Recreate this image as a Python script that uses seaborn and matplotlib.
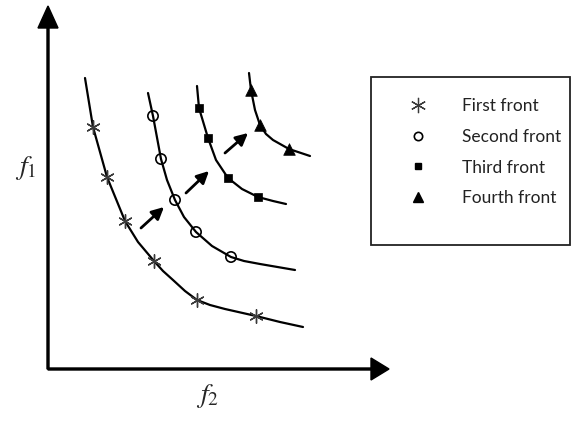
import pandas as pd
import matplotlib
matplotlib.use("Agg")
import matplotlib.pyplot as plt
import seaborn as sns
from matplotlib.lines import Line2D
from matplotlib.patches import Rectangle

# -----------------------------
# Data
# -----------------------------

front_names = ["First front", "Second front", "Third front", "Fourth front"]

# smooth front curves
c1_f2 = [3.7, 4.5, 5.9, 7.7, 9.0, 10.6, 11.5, 12.5, 13.7, 14.9, 16.2,
         17.7, 20.8, 23.2, 25.5]
c1_f1 = [29.1, 24.2, 19.2, 14.8, 12.7, 10.8, 9.8, 8.9, 7.8, 6.9, 6.4,
         6.0, 5.3, 4.7, 4.2]

c2_f2 = [10.0, 10.5, 11.3, 11.9, 12.7, 13.6, 14.8, 16.4, 18.3, 19.6,
         21.2, 24.7]
c2_f1 = [27.6, 25.3, 21.0, 18.9, 16.9, 15.2, 13.7, 12.3, 11.2, 10.8,
         10.5, 9.9]

c3_f2 = [14.9, 15.1, 16.0, 16.8, 18.0, 19.4, 21.0, 22.5, 23.8]
c3_f1 = [28.3, 26.1, 23.1, 20.9, 19.1, 18.0, 17.2, 16.8, 16.5]

c4_f2 = [20.1, 20.3, 20.7, 21.2, 21.8, 22.5, 24.1, 26.2]
c4_f1 = [29.6, 27.9, 25.9, 24.4, 23.5, 22.9, 22.0, 21.3]

# solutions on each front
p1_f2 = [4.5, 5.9, 7.7, 10.6, 14.9, 20.8]
p1_f1 = [24.2, 19.2, 14.8, 10.8, 6.9, 5.3]

p2_f2 = [10.5, 11.3, 12.7, 14.8, 18.3]
p2_f1 = [25.3, 21.0, 16.9, 13.7, 11.2]

p3_f2 = [15.1, 16.0, 18.0, 21.0]
p3_f1 = [26.1, 23.1, 19.1, 17.2]

p4_f2 = [20.3, 21.2, 24.1]
p4_f1 = [27.9, 24.4, 22.0]

# arrows between fronts (start, end)
arrow_f2 = [(9.3, 11.6), (13.8, 16.1), (17.7, 20.0)]
arrow_f1 = [(14.1, 16.2), (17.6, 19.8), (21.6, 23.6)]

axis_f2_end = 34.1
axis_f1_end = 36.3

# -----------------------------
# Style
# -----------------------------

sns.set_theme(style="white")
plt.rcParams["font.family"] = ["Lato", "DejaVu Sans"]
plt.rcParams["mathtext.fontset"] = "stix"

fig = plt.figure(figsize=(5.72, 4.21), dpi=100)
ax = fig.add_axes([0, 0, 1, 1])
ax.set_xlim(-4.8, 52.4)
ax.set_ylim(-5.2, 36.9)
ax.set_axis_off()

# -----------------------------
# Axes with arrow heads
# -----------------------------

ax.arrow(0, 0, axis_f2_end, 0, width=0.2, head_width=2.2, head_length=1.8,
         length_includes_head=True, color="black")
ax.arrow(0, 0, 0, axis_f1_end, width=0.2, head_width=2.0, head_length=2.2,
         length_includes_head=True, color="black")

ax.text(-2.2, 20.1, "$f_1$", fontsize=20, ha="center", va="center")
ax.text(16.0, -2.7, "$f_2$", fontsize=20, ha="center", va="center")

# -----------------------------
# Fronts
# -----------------------------

curves = [(c1_f2, c1_f1), (c2_f2, c2_f1), (c3_f2, c3_f1), (c4_f2, c4_f1)]

for xs, ys in curves:
    df = pd.DataFrame({"f2": xs, "f1": ys})
    sns.lineplot(data=df, x="f2", y="f1", sort=False, estimator=None,
                 color="black", linewidth=1.6, ax=ax)

sns.scatterplot(x=p1_f2, y=p1_f1, marker=(6, 2, 0), s=95,
                color="#3a3a3a", edgecolor="#3a3a3a", linewidth=1.0,
                zorder=3, ax=ax)
sns.scatterplot(x=p2_f2, y=p2_f1, marker="o", s=55,
                facecolor="none", edgecolor="black", linewidth=1.2,
                zorder=3, ax=ax)
sns.scatterplot(x=p3_f2, y=p3_f1, marker="s", s=26,
                color="black", edgecolor="black", linewidth=0.5,
                zorder=3, ax=ax)
sns.scatterplot(x=p4_f2, y=p4_f1, marker="^", s=70,
                color="black", edgecolor="black", linewidth=0.5,
                zorder=3, ax=ax)

# -----------------------------
# Arrows between fronts
# -----------------------------

for (x0, x1), (y0, y1) in zip(arrow_f2, arrow_f1):
    ax.annotate("", xy=(x1, y1), xytext=(x0, y0),
                arrowprops=dict(arrowstyle="-|>", color="black", lw=2.0,
                                mutation_scale=18, shrinkA=0, shrinkB=0))

# -----------------------------
# Legend
# -----------------------------

ax.add_patch(Rectangle((371 / 572, 1 - 245 / 421), 199 / 572, 168 / 421,
                       transform=fig.transFigure, fill=False,
                       edgecolor="#222222", linewidth=1.3))

handles = [
    Line2D([], [], linestyle="none", marker=(6, 2, 0), markersize=11,
           markeredgewidth=0.9, color="#3a3a3a"),
    Line2D([], [], linestyle="none", marker="o", markersize=6,
           markerfacecolor="none", markeredgewidth=1.2, color="black"),
    Line2D([], [], linestyle="none", marker="s", markersize=4.5,
           color="black"),
    Line2D([], [], linestyle="none", marker="^", markersize=7.5,
           color="black"),
]

ax.legend(handles, front_names, loc="upper left",
          bbox_to_anchor=(409 / 572, 1 - 98 / 421),
          bbox_transform=fig.transFigure, frameon=False,
          fontsize=12.5, handlelength=1.0, handletextpad=2.03,
          labelspacing=0.85, borderpad=0, borderaxespad=0,
          labelcolor="#222222")

fig.savefig("out.png", dpi=100)
plt.close(fig)
